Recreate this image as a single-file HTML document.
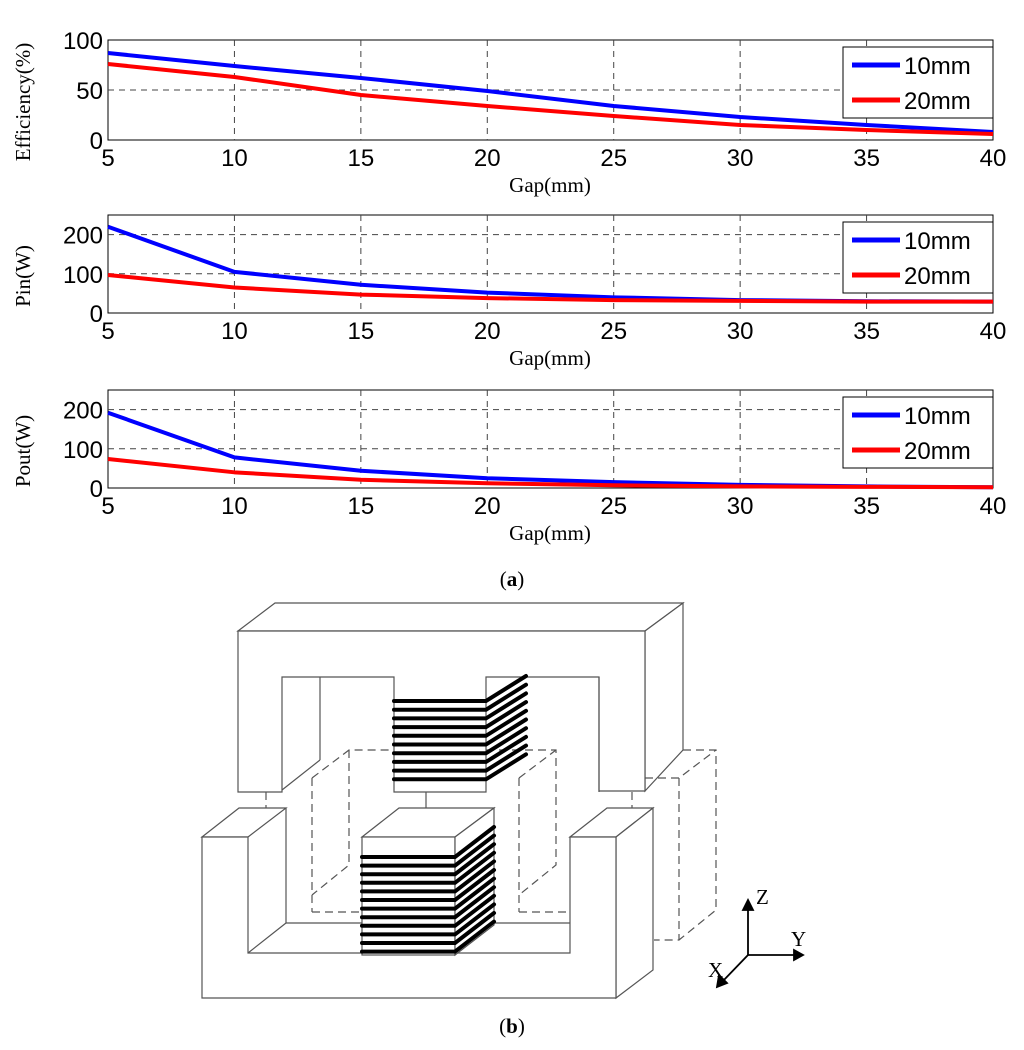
<!DOCTYPE html>
<html><head><meta charset="utf-8"><style>
body{margin:0;background:#fff;}
svg{display:block;}
.tk{font-family:"Liberation Sans",sans-serif;font-size:24px;fill:#000;}
.ttl{font-family:"Liberation Serif",serif;font-size:21px;fill:#000;}
</style></head><body>
<svg id="fig" width="1024" height="1050" viewBox="0 0 1024 1050" xmlns="http://www.w3.org/2000/svg">
<g id="charts"></g>
<text class="ttl" x="512" y="586" text-anchor="middle">(<tspan font-weight="bold">a</tspan>)</text>
<text class="ttl" x="512" y="1033" text-anchor="middle">(<tspan font-weight="bold">b</tspan>)</text>
<g id="diagram" fill="#fff" stroke="#555" stroke-width="1.2">
  <polygon points="238,631 275,603 683,603 645,631"/>
  <polygon points="645,631 683,603 683,750 645,791"/>
  <polygon points="238,631 645,631 645,791 599,791 599,677 486,677 486,792 394,792 394,677 282,677 282,792 238,792"/>
  <line x1="320" y1="677" x2="320" y2="760"/>
  <line x1="282" y1="790" x2="320" y2="760"/>
  <line x1="599" y1="677" x2="599" y2="792"/>
  <g stroke-dasharray="8,5" fill="none">
    <polyline points="349,750 349,865 312,895"/>
    <polyline points="312,778 349,750 394,750"/>
    <line x1="312" y1="778" x2="312" y2="912"/>
    <line x1="312" y1="912" x2="362" y2="912"/>
    <polyline points="486,750 556,750 556,865 519,895"/>
    <polyline points="519,778 556,750"/>
    <line x1="519" y1="778" x2="519" y2="912"/>
    <line x1="519" y1="912" x2="570" y2="912"/>
    <polyline points="683,750 716,750 716,910 679,940 654,940"/>
    <polyline points="645,778 679,778 716,750"/>
    <line x1="679" y1="778" x2="679" y2="940"/>
    <line x1="266" y1="792" x2="266" y2="808"/>
    <line x1="632" y1="792" x2="632" y2="808"/>
  </g>
  <line x1="426" y1="792" x2="426" y2="808"/>
  <polygon points="202,837 239,808 286,808 248,837"/>
  <polygon points="570,837 607,808 653,808 616,837"/>
  <polygon points="616,837 653,808 653,970 616,998"/>
  <line x1="286" y1="808" x2="286" y2="923"/>
  <line x1="286" y1="923" x2="570" y2="923"/>
  <line x1="248" y1="953" x2="286" y2="923"/>
  <polygon points="202,837 248,837 248,953 570,953 570,837 616,837 616,998 202,998"/>
  <polygon points="362,837 399,808 494,808 455,837"/>
  <rect x="362" y="837" width="93" height="118"/>
  <polygon points="455,837 494,808 494,925 455,955"/>
  <g id="coils" stroke="#000" stroke-width="4" stroke-linecap="round" fill="none"></g>
  <g stroke="#000" stroke-width="1.8" fill="#000">
    <line x1="748" y1="955" x2="748" y2="905"/><polygon points="743,910 748,900 753,910"/>
    <line x1="748" y1="955" x2="797" y2="955"/><polygon points="794,950 803,955 794,960"/>
    <line x1="748" y1="955" x2="722" y2="982"/><polygon points="719,975 717,987 727,983"/>
  </g>
  <g class="ttl" stroke="none" fill="#000" font-size="17">
    <text x="756" y="904">Z</text>
    <text x="791" y="946">Y</text>
    <text x="708" y="977">X</text>
  </g>
</g>
</svg>
<script>
const NS="http://www.w3.org/2000/svg";
const gaps=[5,10,15,20,25,30,35,40];
const xTicks=[5,10,15,20,25,30,35,40];
const eff10=[87,74,62,49,34,23,15,8];
const eff20=[76,63,45,34,24,15,10,6];
const pin10=[220,105,72,52,40,33,30,29];
const pin20=[97,65,47,38,33,31,29,29];
const pout10=[192,78,44,25,15,8,4,2];
const pout20=[74,40,21,12,7,4,3,2];
const effTicks=[0,50,100];
const pTicks=[0,100,200];
const legendLabels=["10mm","20mm"];
function el(tag,attrs,parent){const e=document.createElementNS(NS,tag);for(const k in attrs)e.setAttribute(k,attrs[k]);parent.appendChild(e);return e;}
const root=document.getElementById('charts');
function chart(name,top,bottom,ymax,ticks,title,s1,s2){
  const L=108,R=993;
  const g=el('g',{},root);
  
  
  const xs=v=>L+(v-5)/35*(R-L);
  const ys=v=>bottom-v/ymax*(bottom-top);
  el('rect',{x:L,y:top,width:R-L,height:bottom-top,fill:'#fff',stroke:'#000','stroke-width':1},g);
  xTicks.forEach(t=>{
    if(t>5&&t<40){el('line',{x1:xs(t),y1:top,x2:xs(t),y2:bottom,stroke:'#444','stroke-dasharray':'6,5','stroke-width':1},g);}
    const tx=el('text',{x:xs(t),y:bottom+26,'text-anchor':'middle',class:'tk'},g);tx.textContent=t;
    
    
  });
  ticks.forEach(t=>{
    if(t>0&&t<ymax){el('line',{x1:L,y1:ys(t),x2:R,y2:ys(t),stroke:'#444','stroke-dasharray':'6,5','stroke-width':1},g);}
    const tx=el('text',{x:L-5,y:ys(t)+9,'text-anchor':'end',class:'tk'},g);tx.textContent=t;
    
    
  });
  const xt=el('text',{x:550,y:bottom+52,'text-anchor':'middle',class:'ttl'},g);xt.textContent='Gap(mm)';
  
  
  const cy=(top+bottom)/2+12;
  const yt=el('text',{x:30,y:cy,'text-anchor':'middle',class:'ttl','font-size':'22',transform:`rotate(-90 30 ${cy})`},g);yt.textContent=title;
  
  
  [[s1,'#0000ff','series-10mm'],[s2,'#ff0000','series-20mm']].forEach(([s,c,n])=>{
    const p=el('polyline',{points:s.map((v,i)=>xs(gaps[i])+','+ys(v)).join(' '),fill:'none',stroke:c,'stroke-width':4,'stroke-linejoin':'round'},g);
    
    
  });
  const lg=el('g',{},g);
  
  
  el('rect',{x:843,y:top+7,width:150,height:71,fill:'#fff',stroke:'#000','stroke-width':1},lg);
  ['#0000ff','#ff0000'].forEach((c,i)=>{
    const y=top+25+i*35;
    el('line',{x1:852,y1:y,x2:900,y2:y,stroke:c,'stroke-width':5},lg);
    const t=el('text',{x:904,y:y+9,class:'tk'},lg);t.textContent=legendLabels[i];
    
    
  });
}
chart('efficiency-chart',40,140,100,effTicks,'Efficiency(%)',eff10,eff20);
chart('pin-chart',215,313,250,pTicks,'Pin(W)',pin10,pin20);
chart('pout-chart',390,488,250,pTicks,'Pout(W)',pout10,pout20);
const coils=document.getElementById('coils');
for(let i=0;i<10;i++){const y=701+i*8.7;el('polyline',{points:`394,${y} 486,${y} 526,${y-25}`},coils);}
for(let i=0;i<12;i++){const y=857+i*8.6;el('polyline',{points:`362,${y} 455,${y} 494,${y-30}`},coils);}
</script>
</body></html>
